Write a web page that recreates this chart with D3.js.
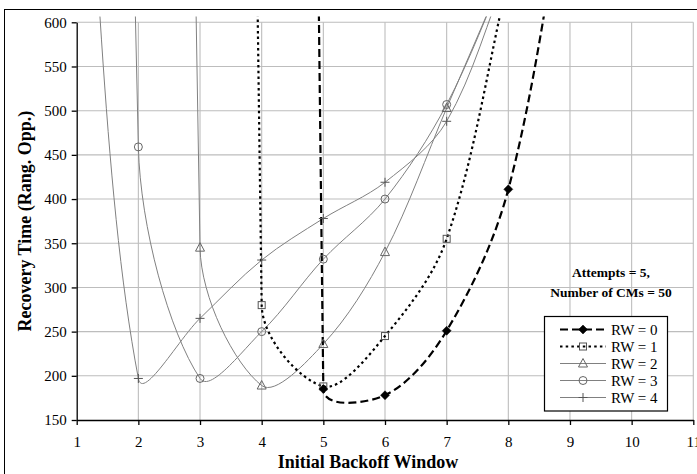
<!DOCTYPE html>
<html><head><meta charset="utf-8">
<script src="https://cdn.jsdelivr.net/npm/d3@7"></script>
<style>body{margin:0;background:#fff} svg{display:block}</style>
</head><body>
<svg id="chart" width="697" height="474"></svg>
<script>
// ---- data ----
const xTicks = [1,2,3,4,5,6,7,8,9,10,11];
const yTicks = [150,200,250,300,350,400,450,500,550,600];
const seriesNames = ["RW = 0","RW = 1","RW = 2","RW = 3","RW = 4"];
const rw0X = [4,5,6,7,8,9];
const rw0Y = [11500,185,178,251,411,780];
const rw1X = [3,4,5,6,7,8];
const rw1Y = [10000,280,188,245,355,650];
const rw2X = [2,3,4,5,6,7,8];
const rw2Y = [8000,345,189,236,340,503,665];
const rw3X = [1,2,3,4,5,6,7,8];
const rw3Y = [6000,459,197,250,332,400,507,665];
const rw4X = [1,2,3,4,5,6,7,8];
const rw4Y = [1000,197,265,331,378,419,488,660];
const xTitle = "Initial Backoff Window";
const yTitle = "Recovery Time (Rang. Opp.)";
const noteLines = ["Attempts = 5,", "Number of CMs = 50"];

// ---- layout ----
const svg = d3.select("#chart");
const x = d3.scaleLinear().domain([1,11]).range([76.7,693.3]);
const y = d3.scaleLinear().domain([150,600]).range([420,22.3]);
const FONT = "'Liberation Serif','Times New Roman',serif";

svg.append("rect").attr("x",4.5).attr("y",9.5).attr("width",720).attr("height",520)
  .attr("fill","#fff").attr("stroke","#000").attr("stroke-width",1);

// grid
const grid = svg.append("g");
grid.selectAll("line.h").data(yTicks.filter(v=>v>150)).join("line")
  .attr("x1",x(1)).attr("x2",x(11)).attr("y1",d=>y(d)).attr("y2",d=>y(d))
  .attr("stroke","#bdbdbd").attr("stroke-width",1.1);
grid.selectAll("line.v").data(xTicks.filter(v=>v>1)).join("line")
  .attr("x1",d=>x(d)).attr("x2",d=>x(d)).attr("y1",y(600)).attr("y2",y(150))
  .attr("stroke","#bdbdbd").attr("stroke-width",1.1);

// axes
const xAxis = svg.append("g").attr("transform",`translate(0,${y(150)})`)
  .call(d3.axisBottom(x).tickValues(xTicks).tickSize(5).tickSizeOuter(0).tickFormat(d3.format("d")));
xAxis.selectAll("text").attr("y",27).attr("dy",0);
const yAxis = svg.append("g").attr("transform",`translate(${x(1)},0)`)
  .call(d3.axisLeft(y).tickValues(yTicks).tickSize(5).tickPadding(5).tickSizeOuter(0));
[xAxis,yAxis].forEach(a=>{
  a.selectAll("text").attr("font-family",FONT).attr("font-size",15).attr("fill","#000");
  a.select(".domain").attr("stroke","#000").attr("stroke-width",1.3);
  a.selectAll(".tick line").attr("stroke","#000").attr("stroke-width",1.3);
});

// titles
svg.append("text").attr("x",368).attr("y",468).attr("text-anchor","middle")
  .attr("font-family",FONT).attr("font-weight","bold").attr("font-size",18).text(xTitle);
svg.append("text").attr("transform",`translate(31,${(y(150)+y(600))/2}) rotate(-90)`)
  .attr("text-anchor","middle").attr("font-family",FONT).attr("font-weight","bold")
  .attr("font-size",18).text(yTitle);

// smoothing (Excel-like bezier with length-weighted tangents)
function smoothPath(pts){
  const p = d3.path();
  const n = pts.length;
  const dist = (a,b)=>Math.hypot(a[0]-b[0],a[1]-b[1]);
  p.moveTo(pts[0][0],pts[0][1]);
  for(let i=0;i<n-1;i++){
    const p0=pts[Math.max(i-1,0)], p1=pts[i], p2=pts[i+1], p3=pts[Math.min(i+2,n-1)];
    const d01=dist(p0,p1), d12=dist(p1,p2), d23=dist(p2,p3);
    const k1=d12/(d01+d12)/3, k2=d12/(d12+d23)/3;
    p.bezierCurveTo(p1[0]+(p2[0]-p0[0])*k1, p1[1]+(p2[1]-p0[1])*k1,
                    p2[0]-(p3[0]-p1[0])*k2, p2[1]-(p3[1]-p1[1])*k2, p2[0], p2[1]);
  }
  return p.toString();
}

const clipId="plotclip";
svg.append("clipPath").attr("id",clipId).append("rect")
  .attr("x",x(1)).attr("y",16.5).attr("width",x(11)-x(1)+10).attr("height",y(150)-16.5);

const series = [
  {name:seriesNames[0], xs:rw0X, ys:rw0Y, color:"#000", w:2.2, dash:"8,4", marker:"diamond"},
  {name:seriesNames[1], xs:rw1X, ys:rw1Y, color:"#000", w:2.2, dash:"2.5,3.2", marker:"square"},
  {name:seriesNames[2], xs:rw2X, ys:rw2Y, color:"#808080", w:1, dash:null, marker:"triangle"},
  {name:seriesNames[3], xs:rw3X, ys:rw3Y, color:"#808080", w:1, dash:null, marker:"circle"},
  {name:seriesNames[4], xs:rw4X, ys:rw4Y, color:"#808080", w:1, dash:null, marker:"plus"}
];

function drawMarker(g, type, cx, cy){
  if(type==="diamond"){
    g.append("path").attr("d",`M${cx},${cy-4.5}L${cx+4.5},${cy}L${cx},${cy+4.5}L${cx-4.5},${cy}Z`)
      .attr("fill","#000").attr("stroke","#000").attr("stroke-width",0.5);
  } else if(type==="square"){
    g.append("rect").attr("x",cx-3.5).attr("y",cy-3.5).attr("width",7).attr("height",7)
      .attr("fill","none").attr("stroke","#555").attr("stroke-width",1);
  } else if(type==="triangle"){
    g.append("path").attr("d",`M${cx},${cy-5}L${cx+4.5},${cy+3.5}L${cx-4.5},${cy+3.5}Z`)
      .attr("fill","none").attr("stroke","#666").attr("stroke-width",1);
  } else if(type==="circle"){
    g.append("circle").attr("cx",cx).attr("cy",cy).attr("r",4)
      .attr("fill","none").attr("stroke","#666").attr("stroke-width",1);
  } else if(type==="plus"){
    g.append("path").attr("d",`M${cx-4.5},${cy}H${cx+4.5}M${cx},${cy-4.5}V${cy+4.5}`)
      .attr("fill","none").attr("stroke","#555").attr("stroke-width",1);
  }
}

const plot = svg.append("g").attr("clip-path",`url(#${clipId})`);
series.slice().reverse().forEach(s=>{
  const pts = s.xs.map((xv,i)=>[x(xv), y(s.ys[i])]);
  plot.append("path").attr("d",smoothPath(pts)).attr("fill","none")
    .attr("stroke",s.color).attr("stroke-width",s.w).attr("stroke-dasharray",s.dash);
});
series.slice().reverse().forEach(s=>{
  const g = plot.append("g");
  s.xs.forEach((xv,i)=>{ if(s.ys[i]<=600) drawMarker(g, s.marker, x(xv), y(s.ys[i])); });
});

// note
const note = svg.append("text").attr("text-anchor","middle").attr("font-family",FONT)
  .attr("font-weight","bold").attr("font-size",13.5);
noteLines.forEach((t,i)=>note.append("tspan").attr("x",611).attr("y",277+i*19.5).text(t));

// legend
const lg = svg.append("g");
lg.append("rect").attr("x",544.5).attr("y",316.5).attr("width",123).attr("height",94.5)
  .attr("fill","#fff").attr("stroke","#000").attr("stroke-width",1.2);
series.forEach((s,i)=>{
  const ly = 329.5 + i*17;
  lg.append("line").attr("x1",560).attr("x2",606).attr("y1",ly).attr("y2",ly)
    .attr("stroke",s.color).attr("stroke-width",s.w).attr("stroke-dasharray",s.dash);
  drawMarker(lg, s.marker, 583, ly);
  lg.append("text").attr("x",611).attr("y",ly+5).attr("font-family",FONT).attr("font-size",15)
    .text(s.name);
});
</script>
</body></html>
